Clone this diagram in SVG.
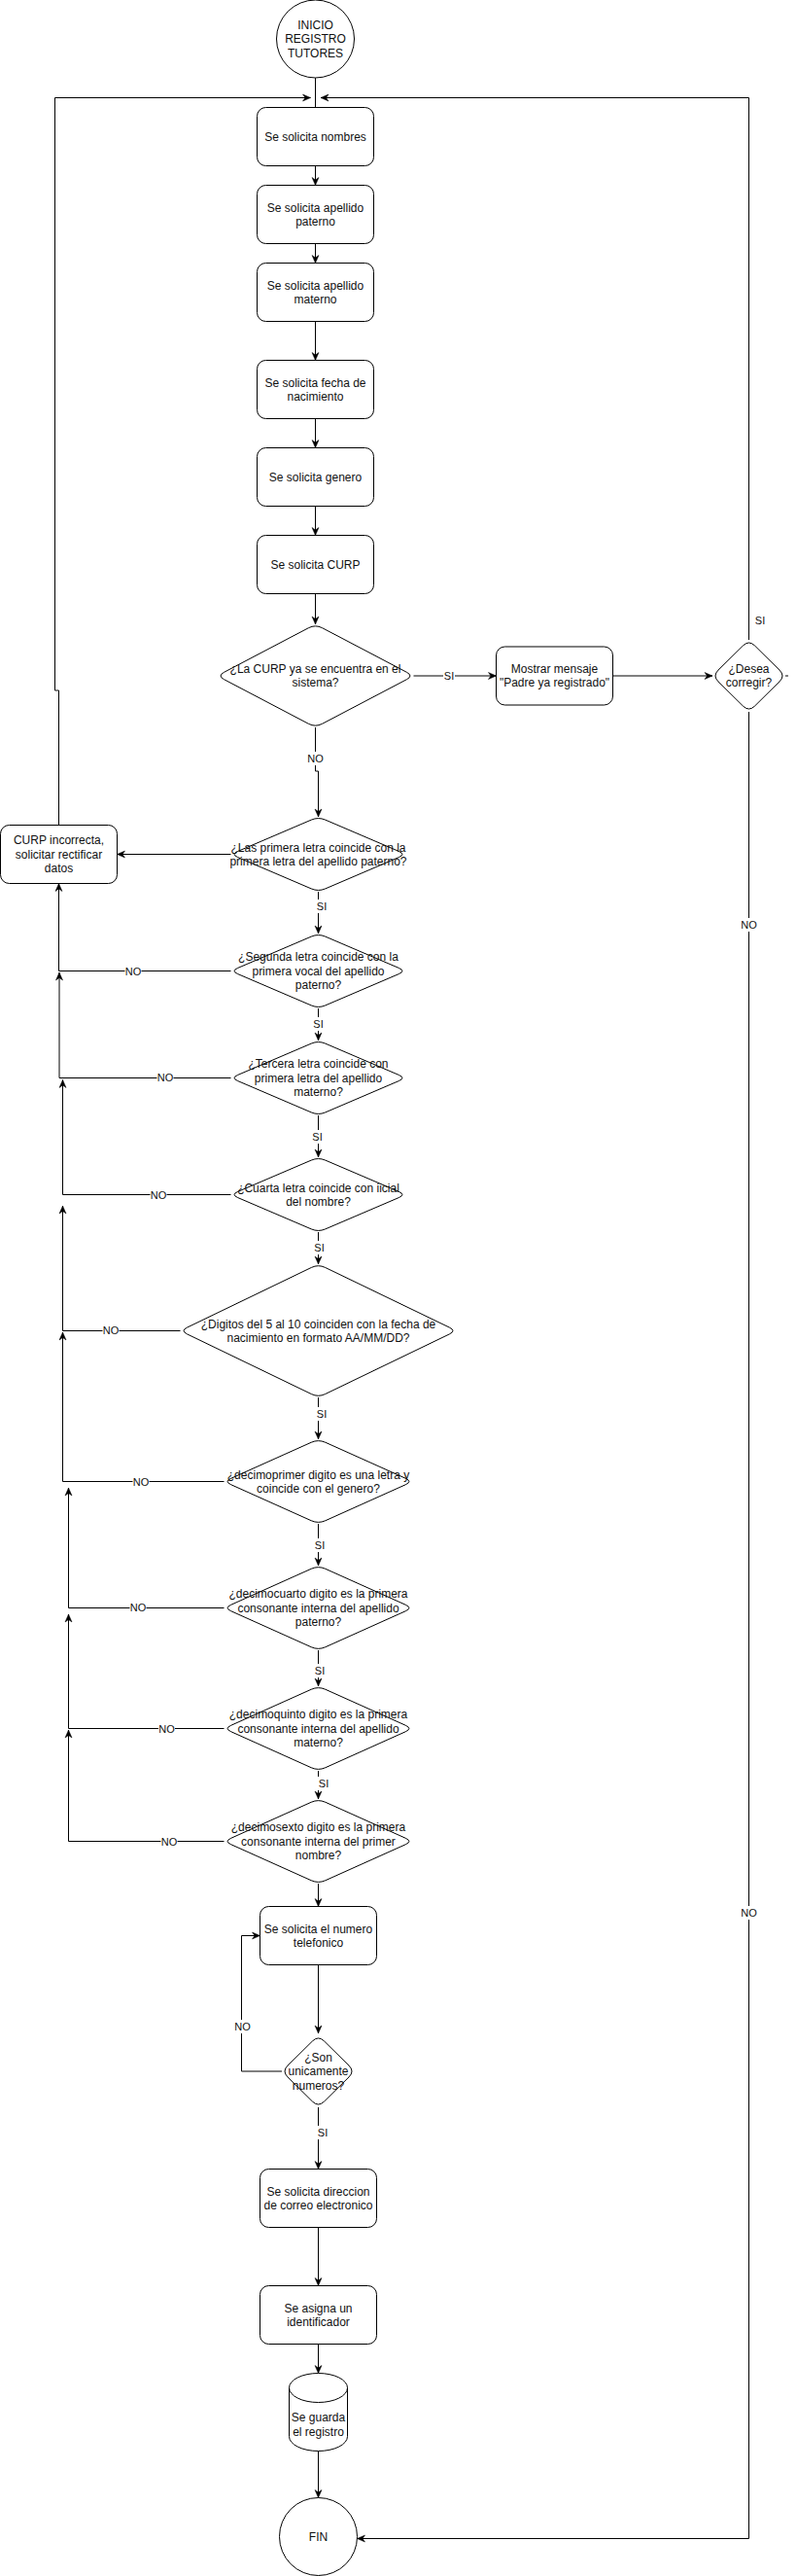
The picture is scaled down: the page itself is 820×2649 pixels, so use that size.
<svg xmlns="http://www.w3.org/2000/svg" width="820" height="2649" viewBox="0 0 820 2649">
<style>
.s{fill:#fff;stroke:#000;stroke-width:1}
.e{fill:none;stroke:#000;stroke-width:1}
.ea{fill:none;stroke:#000;stroke-width:1;marker-end:url(#arr)}
.t{font-family:"Liberation Sans",Arial,Helvetica,sans-serif;font-size:12px;fill:#111;text-anchor:middle}
.l{font-family:"Liberation Sans",Arial,Helvetica,sans-serif;font-size:11px;fill:#111;text-anchor:middle}
.bg{fill:#fff;stroke:none}
</style>
<defs>
<marker id="arr" viewBox="-9 -5 10 10" refX="0" refY="0" markerWidth="10" markerHeight="10" markerUnits="userSpaceOnUse" orient="auto">
<path d="M0,0 L-8,-3.5 L-5.5,0 L-8,3.5 Z" fill="#000" stroke="#000" stroke-width="0.5"/>
</marker>
<path id="dA" d="M-7.2,-35.42 Q0,-38.5 7.2,-35.42 L82.8,-3.08 Q90,0 82.8,3.08 L7.2,35.42 Q0,38.5 -7.2,35.42 L-82.8,3.08 Q-90,0 -82.8,-3.08 Z"/>
<path id="dB" d="M-7.28,-40.24 Q0,-43.5 7.28,-40.24 L89.72,-3.26 Q97,0 89.72,3.26 L7.28,40.24 Q0,43.5 -7.28,40.24 L-89.72,3.26 Q-97,0 -89.72,-3.26 Z"/>
<path id="dS" d="M-6,-31.08 Q0,-37 6,-31.08 L31.5,-5.92 Q37.5,0 31.5,5.92 L6,31.08 Q0,37 -6,31.08 L-31.5,5.92 Q-37.5,0 -31.5,-5.92 Z"/>
<path id="dC" d="M-7.07,-49.29 Q0,-53 7.07,-49.29 L93.93,-3.71 Q101,0 93.93,3.71 L7.07,49.29 Q0,53 -7.07,49.29 L-93.93,3.71 Q-101,0 -93.93,-3.71 Z"/>
<path id="dD" d="M-7.1,-65.07 Q0,-68.5 7.1,-65.07 L134.9,-3.43 Q142,0 134.9,3.43 L7.1,65.07 Q0,68.5 -7.1,65.07 L-134.9,3.43 Q-142,0 -134.9,-3.43 Z"/>
</defs>
<rect x="0" y="0" width="820" height="2649" fill="#fff"/>

<g id="connectors">
<path class="e" d="M324.5,80 V110.5"/>
<path class="ea" d="M324.5,170.5 V190.5"/>
<path class="ea" d="M324.5,250.5 V270.5"/>
<path class="ea" d="M324.5,330.5 V370.5"/>
<path class="ea" d="M324.5,430.5 V460.5"/>
<path class="ea" d="M324.5,520.5 V550.5"/>
<path class="ea" d="M324.5,610.5 V642"/>
<path class="ea" d="M425.5,695 H510.5"/>
<path class="ea" d="M630.5,695 H733"/>
<path class="ea" d="M770.5,658 V100.5 H330"/>
<path class="ea" d="M770.5,732 V2610.5 H367.5"/>
<path class="e" d="M808,695 H811"/>
<path class="ea" d="M324.5,748 V793 H327.5 V840"/>
<path class="ea" d="M237.5,878.5 H120.5"/>
<path class="ea" d="M60.5,848.5 V710 H56.5 V100.5 H319.5"/>
<path class="ea" d="M327.5,917 V960"/>
<path class="ea" d="M237.5,998.5 H60.5 V908.5"/>
<path class="ea" d="M327.5,1037 V1070"/>
<path class="ea" d="M237.5,1108.5 H61 V1000"/>
<path class="ea" d="M327.5,1147 V1190"/>
<path class="ea" d="M237.5,1228.5 H64.5 V1110.5"/>
<path class="ea" d="M327.5,1267 V1300"/>
<path class="ea" d="M185.5,1368.5 H64.5 V1240"/>
<path class="ea" d="M327.5,1437 V1480"/>
<path class="ea" d="M230.5,1523.5 H64.5 V1370"/>
<path class="ea" d="M327.5,1567 V1610"/>
<path class="ea" d="M230.5,1653.5 H70.5 V1530"/>
<path class="ea" d="M327.5,1697 V1734"/>
<path class="ea" d="M230.5,1777.5 H70.5 V1660"/>
<path class="ea" d="M327.5,1821 V1850"/>
<path class="ea" d="M230.5,1893.5 H70.5 V1779"/>
<path class="ea" d="M327.5,1937 V1960.5"/>
<path class="ea" d="M327.5,2020.5 V2091"/>
<path class="ea" d="M290,2130 H248.5 V1990.5 H267.5"/>
<path class="ea" d="M327.5,2167 V2230.5"/>
<path class="ea" d="M327.5,2290.5 V2350.5"/>
<path class="ea" d="M327.5,2410.5 V2440.5"/>
<path class="ea" d="M327.5,2520.5 V2568.5"/>
<g id="edge-labels">
<rect class="bg" x="316" y="773" width="17" height="14"/><text class="l" x="324.5" y="783.8">NO</text>
<rect class="bg" x="456" y="688" width="12" height="14"/><text class="l" x="462" y="698.8">SI</text>
<text class="l" x="782" y="641.8">SI</text>
<rect class="bg" x="762" y="944" width="17" height="14"/><text class="l" x="770.5" y="954.8">NO</text>
<rect class="bg" x="762" y="1960" width="17" height="14"/><text class="l" x="770.5" y="1970.8">NO</text>
<rect class="bg" x="325" y="925" width="12" height="14"/><text class="l" x="331" y="935.8">SI</text>
<rect class="bg" x="321.5" y="1046" width="12" height="14"/><text class="l" x="327.5" y="1056.8">SI</text>
<rect class="bg" x="320.5" y="1162" width="12" height="14"/><text class="l" x="326.5" y="1172.8">SI</text>
<rect class="bg" x="322.5" y="1276" width="12" height="14"/><text class="l" x="328.5" y="1286.8">SI</text>
<rect class="bg" x="325" y="1447" width="12" height="14"/><text class="l" x="331" y="1457.8">SI</text>
<rect class="bg" x="323" y="1582" width="12" height="14"/><text class="l" x="329" y="1592.8">SI</text>
<rect class="bg" x="323" y="1711" width="12" height="14"/><text class="l" x="329" y="1721.8">SI</text>
<rect class="bg" x="327" y="1827" width="12" height="14"/><text class="l" x="333" y="1837.8">SI</text>
<rect class="bg" x="326" y="2186" width="12" height="14"/><text class="l" x="332" y="2196.8">SI</text>
<rect class="bg" x="128.5" y="992" width="17" height="14"/><text class="l" x="137" y="1002.8">NO</text>
<rect class="bg" x="161.5" y="1101.5" width="17" height="14"/><text class="l" x="170" y="1112.3">NO</text>
<rect class="bg" x="154.5" y="1222" width="17" height="14"/><text class="l" x="163" y="1232.8">NO</text>
<rect class="bg" x="105.5" y="1361.5" width="17" height="14"/><text class="l" x="114" y="1372.3">NO</text>
<rect class="bg" x="136.5" y="1517" width="17" height="14"/><text class="l" x="145" y="1527.8">NO</text>
<rect class="bg" x="133.5" y="1646.5" width="17" height="14"/><text class="l" x="142" y="1657.3">NO</text>
<rect class="bg" x="163" y="1771" width="17" height="14"/><text class="l" x="171.5" y="1781.8">NO</text>
<rect class="bg" x="165.5" y="1887" width="17" height="14"/><text class="l" x="174" y="1897.8">NO</text>
<rect class="bg" x="241" y="2077" width="17" height="14"/><text class="l" x="249.5" y="2087.8">NO</text>
</g>
</g>

<g id="inicio"><circle class="s" cx="324.5" cy="40" r="40"/>
<text class="t" x="324.5" y="29.8">INICIO</text><text class="t" x="324.5" y="44.2">REGISTRO</text><text class="t" x="324.5" y="58.6">TUTORES</text></g>

<g id="nombres"><rect class="s" x="264.5" y="110.5" width="120" height="60" rx="9"/>
<text class="t" x="324.5" y="144.7">Se solicita nombres</text></g>

<g id="paterno"><rect class="s" x="264.5" y="190.5" width="120" height="60" rx="9"/>
<text class="t" x="324.5" y="217.5">Se solicita apellido</text><text class="t" x="324.5" y="231.9">paterno</text></g>

<g id="materno"><rect class="s" x="264.5" y="270.5" width="120" height="60" rx="9"/>
<text class="t" x="324.5" y="297.5">Se solicita apellido</text><text class="t" x="324.5" y="311.9">materno</text></g>

<g id="fecha"><rect class="s" x="264.5" y="370.5" width="120" height="60" rx="9"/>
<text class="t" x="324.5" y="397.5">Se solicita fecha de</text><text class="t" x="324.5" y="411.9">nacimiento</text></g>

<g id="genero"><rect class="s" x="264.5" y="460.5" width="120" height="60" rx="9"/>
<text class="t" x="324.5" y="494.7">Se solicita genero</text></g>

<g id="curp"><rect class="s" x="264.5" y="550.5" width="120" height="60" rx="9"/>
<text class="t" x="324.5" y="584.7">Se solicita CURP</text></g>

<g id="d-curp"><use class="s" href="#dC" x="324.5" y="695"/>
<text class="t" x="324.5" y="692">¿La CURP ya se encuentra en el</text><text class="t" x="324.5" y="706.4">sistema?</text></g>

<g id="mostrar"><rect class="s" x="510.5" y="665" width="120" height="60" rx="9"/>
<text class="t" x="570.5" y="692">Mostrar mensaje</text><text class="t" x="570.5" y="706.4">"Padre ya registrado"</text></g>

<g id="d-corregir"><use class="s" href="#dS" x="770.5" y="695"/>
<text class="t" x="770.5" y="692">¿Desea</text><text class="t" x="770.5" y="706.4">corregir?</text></g>

<g id="incorrecta"><rect class="s" x="0.5" y="848.5" width="120" height="60" rx="9"/>
<text class="t" x="60.5" y="868.3">CURP incorrecta,</text><text class="t" x="60.5" y="882.7">solicitar rectificar</text><text class="t" x="60.5" y="897.1">datos</text></g>

<g id="d-letra1"><use class="s" href="#dA" x="327.5" y="878.5"/>
<text class="t" x="327.5" y="875.5">¿Las primera letra coincide con la</text><text class="t" x="327.5" y="889.9">primera letra del apellido paterno?</text></g>

<g id="d-letra2"><use class="s" href="#dA" x="327.5" y="998.5"/>
<text class="t" x="327.5" y="988.3">¿Segunda letra coincide con la</text><text class="t" x="327.5" y="1002.7">primera vocal del apellido</text><text class="t" x="327.5" y="1017.1">paterno?</text></g>

<g id="d-letra3"><use class="s" href="#dA" x="327.5" y="1108.5"/>
<text class="t" x="327.5" y="1098.3">¿Tercera letra coincide con</text><text class="t" x="327.5" y="1112.7">primera letra del apellido</text><text class="t" x="327.5" y="1127.1">materno?</text></g>

<g id="d-letra4"><use class="s" href="#dA" x="327.5" y="1228.5"/>
<text class="t" x="327.5" y="1225.5">¿Cuarta letra coincide con iicial</text><text class="t" x="327.5" y="1239.9">del nombre?</text></g>

<g id="d-digitos"><use class="s" href="#dD" x="327.5" y="1368.5"/>
<text class="t" x="327.5" y="1365.5">¿Digitos del 5 al 10 coinciden con la fecha de</text><text class="t" x="327.5" y="1379.9">nacimiento en formato AA/MM/DD?</text></g>

<g id="d-11"><use class="s" href="#dB" x="327.5" y="1523.5"/>
<text class="t" x="327.5" y="1520.5">¿decimoprimer digito es una letra y</text><text class="t" x="327.5" y="1534.9">coincide con el genero?</text></g>

<g id="d-14"><use class="s" href="#dB" x="327.5" y="1653.5"/>
<text class="t" x="327.5" y="1643.3">¿decimocuarto digito es la primera</text><text class="t" x="327.5" y="1657.7">consonante interna del apellido</text><text class="t" x="327.5" y="1672.1">paterno?</text></g>

<g id="d-15"><use class="s" href="#dB" x="327.5" y="1777.5"/>
<text class="t" x="327.5" y="1767.3">¿decimoquinto digito es la primera</text><text class="t" x="327.5" y="1781.7">consonante interna del apellido</text><text class="t" x="327.5" y="1796.1">materno?</text></g>

<g id="d-16"><use class="s" href="#dB" x="327.5" y="1893.5"/>
<text class="t" x="327.5" y="1883.3">¿decimosexto digito es la primera</text><text class="t" x="327.5" y="1897.7">consonante interna del primer</text><text class="t" x="327.5" y="1912.1">nombre?</text></g>

<g id="telefono"><rect class="s" x="267.5" y="1960.5" width="120" height="60" rx="9"/>
<text class="t" x="327.5" y="1987.5">Se solicita el numero</text><text class="t" x="327.5" y="2001.9">telefonico</text></g>

<g id="d-numeros"><use class="s" href="#dS" x="327.5" y="2130"/>
<text class="t" x="327.5" y="2119.8">¿Son</text><text class="t" x="327.5" y="2134.2">unicamente</text><text class="t" x="327.5" y="2148.6">numeros?</text></g>

<g id="correo"><rect class="s" x="267.5" y="2230.5" width="120" height="60" rx="9"/>
<text class="t" x="327.5" y="2257.5">Se solicita direccion</text><text class="t" x="327.5" y="2271.9">de correo electronico</text></g>

<g id="identificador"><rect class="s" x="267.5" y="2350.5" width="120" height="60" rx="9"/>
<text class="t" x="327.5" y="2377.5">Se asigna un</text><text class="t" x="327.5" y="2391.9">identificador</text></g>

<g id="guarda"><path class="s" d="M297.5,2455.5 A30,15 0 0 1 357.5,2455.5 L357.5,2505.5 A30,15 0 0 1 297.5,2505.5 Z"/>
<path class="e" d="M297.5,2455.5 A30,15 0 0 0 357.5,2455.5"/>
<text class="t" x="327.5" y="2490.2">Se guarda</text><text class="t" x="327.5" y="2504.6">el registro</text></g>

<g id="fin"><circle class="s" cx="327.5" cy="2608.5" r="40"/>
<text class="t" x="327.5" y="2612.7">FIN</text></g>
</svg>
